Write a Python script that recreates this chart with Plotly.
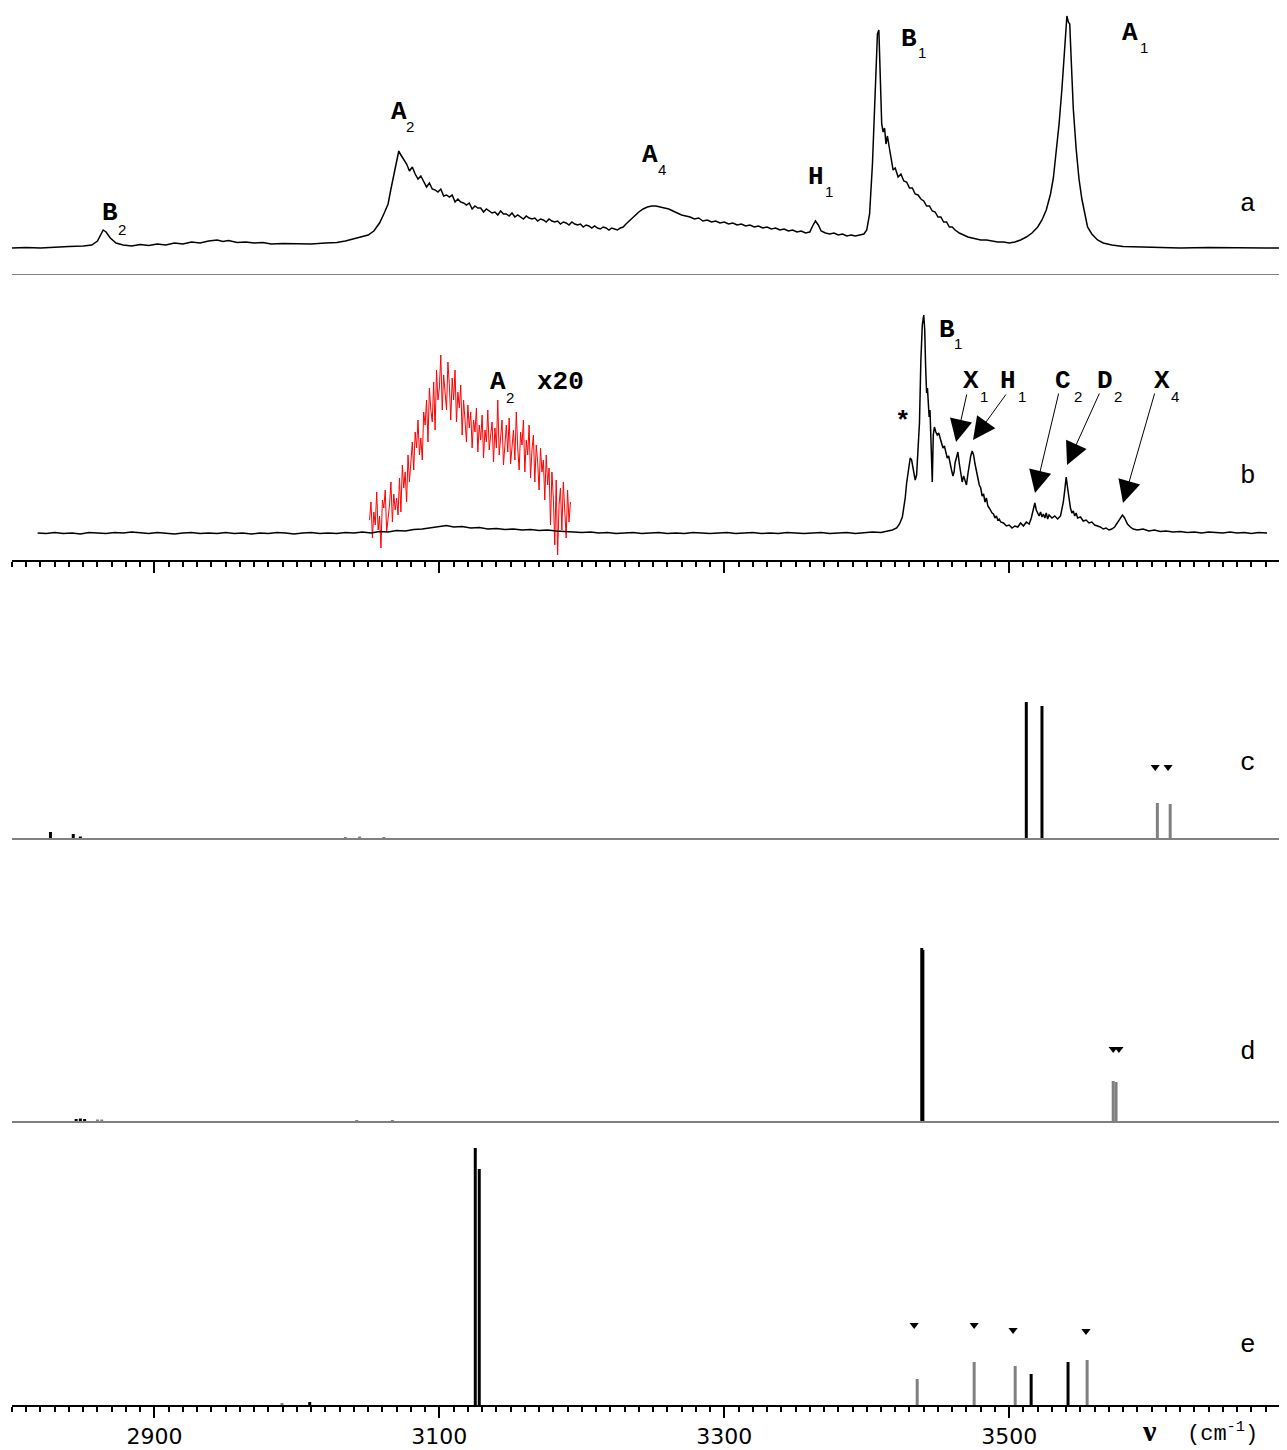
import plotly.graph_objects as go

# page body has an 8px default margin -> figure is drawn at (8, 8) of the page
OFF = 8
W, H = 1287 - OFF, 1450 - OFF
ML, MR, MT, MB = 12 - OFF, 0, 0, 45
XR = [2800, 3695]

# ---------------- panel a : spectrum (x in cm-1, intensity arb.) ----------------
a_x = [2800, 2810, 2820, 2830, 2840, 2850, 2856, 2860, 2864, 2866, 2869, 2873, 2878, 2884, 2890, 2896,
       2902, 2908, 2914, 2920, 2926, 2932, 2938, 2944, 2948, 2952, 2958, 2964, 2970, 2976, 2982, 2990,
       3000, 3010, 3020, 3028, 3034, 3040, 3046, 3050, 3054, 3058, 3061, 3064, 3066, 3068, 3070, 3071.5,
       3073, 3075, 3077, 3079, 3081, 3083, 3085, 3087, 3089, 3091, 3093, 3095, 3097, 3099, 3101, 3103,
       3105, 3107, 3109, 3111, 3113, 3115, 3117, 3119, 3121, 3123, 3125, 3127, 3129, 3131, 3133, 3135,
       3137, 3139, 3141, 3143, 3145, 3147, 3149, 3151, 3153, 3155, 3157, 3159, 3161, 3163, 3165, 3167,
       3169, 3171, 3173, 3175, 3177, 3179, 3181, 3183, 3185, 3187, 3189, 3191, 3193, 3195, 3197, 3199,
       3201, 3203, 3205, 3207, 3209, 3211, 3213, 3215, 3217, 3219, 3221, 3223, 3225, 3227, 3229, 3231,
       3233, 3235, 3237, 3240, 3243, 3246, 3249, 3252, 3255, 3258, 3261, 3264, 3267, 3270, 3273, 3276,
       3279, 3282, 3285, 3288, 3291, 3294, 3297, 3300, 3303, 3306, 3309, 3312, 3315, 3318, 3321, 3324,
       3327, 3330, 3333, 3336, 3339, 3342, 3345, 3348, 3351, 3354, 3357, 3360, 3362, 3364, 3366, 3368,
       3371, 3374, 3377, 3380, 3383, 3386, 3389, 3392, 3395, 3398, 3400, 3402, 3404, 3406, 3407.5, 3408.5,
       3409.5, 3410.5, 3411.5, 3412.5, 3413.5, 3414.5, 3416, 3417.5, 3418.5, 3420, 3422, 3424, 3426, 3428,
       3430, 3432, 3434, 3436, 3438, 3440, 3442, 3444, 3446, 3448, 3450, 3452, 3454, 3456, 3458, 3460,
       3462, 3465, 3468, 3471, 3474, 3477, 3480, 3484, 3488, 3492, 3496, 3500, 3504, 3508, 3512, 3516,
       3520, 3523, 3526, 3529, 3531, 3533, 3535, 3537, 3538.5, 3539.5, 3540.5, 3541.5, 3542.5, 3543.5, 3545, 3547,
       3549, 3551, 3553, 3555, 3558, 3562, 3566, 3572, 3580, 3590, 3600, 3620, 3640, 3660, 3680, 3695]
a_y = [26, 26.5, 26, 27, 27.5, 28, 29, 33, 44, 42, 36, 31, 29, 28, 29.5, 28.5,
       30, 29, 31, 30, 32, 31, 33, 34, 32.5, 33.5, 31.5, 32, 31, 31.5, 30, 30.5,
       30, 30, 31, 31.5, 33, 35, 37, 39, 43, 51, 60, 70, 85, 100, 115, 123,
       119, 114, 110, 103, 107, 100, 95, 98, 92, 87, 91, 85, 84, 82, 85, 78,
       79, 77, 79, 72, 75, 72, 71, 69, 71, 65, 68, 66, 66, 62, 65, 63,
       61, 62, 59, 63, 60, 60, 58, 61, 57, 59, 57, 55, 58, 56, 55, 56,
       53, 55, 54, 52, 55, 53, 52, 53, 50, 52, 51, 49, 52, 50, 49, 50,
       47, 49, 48, 46, 48, 46, 45, 47, 46, 44, 46, 45, 44, 46, 47, 50,
       53, 56, 58, 62, 65, 67, 68, 68, 67, 66, 65, 63, 61, 59, 58, 57,
       55, 56, 53, 54, 52, 53, 51, 52, 50, 51, 49, 50, 48, 49, 47, 48,
       46, 47, 45, 46, 44, 45, 43, 44, 42, 43, 41, 42, 48, 53, 49, 43,
       41, 40, 41, 39, 40, 38, 39, 38, 39, 40, 44, 60, 110, 190, 240, 244,
       200, 150, 142, 146, 130, 138, 125, 112, 104, 106, 97, 100, 93, 92,
       86, 86, 80, 79, 75, 73, 68, 68, 63, 62, 57, 57, 52, 52, 47, 47,
       44, 41, 39, 37, 36, 35, 34, 34, 33, 32, 32, 31, 32, 34, 37, 41,
       47, 54, 64, 80, 96, 120, 150, 185, 215, 240, 258, 252, 250, 215, 165, 125,
       95, 75, 59, 47, 40, 34, 31, 29, 27.5, 27, 26.5, 26, 26.5, 26, 26, 26]

# ---------------- panel b : spectrum (black) and x20 enlargement (red) ----------------
b_x = [2818, 2824, 2830, 2836, 2842, 2848, 2854, 2860, 2866, 2872, 2878, 2884, 2890, 2896, 2902, 2908,
       2914, 2920, 2926, 2932, 2938, 2944, 2950, 2956, 2962, 2968, 2974, 2980, 2986, 2992, 2998, 3004,
       3010, 3016, 3022, 3028, 3034, 3040, 3046, 3052, 3058, 3064, 3070, 3076, 3082, 3088, 3094, 3100,
       3105, 3110, 3116, 3122, 3128, 3134, 3140, 3146, 3152, 3158, 3164, 3170, 3176, 3182, 3188, 3194,
       3200, 3206, 3212, 3218, 3224, 3230, 3236, 3242, 3248, 3254, 3260, 3266, 3272, 3278, 3284, 3290,
       3296, 3302, 3308, 3314, 3320, 3326, 3332, 3338, 3344, 3350, 3356, 3362, 3368, 3374, 3380, 3386,
       3392, 3398, 3404, 3410, 3414, 3418, 3421, 3423, 3425, 3427, 3428, 3429.5, 3430.5, 3431.5, 3433, 3434,
       3435, 3436, 3437, 3438, 3439, 3440, 3440.7, 3441.3, 3442, 3442.6, 3443.2, 3443.8, 3444.4, 3445.2, 3446, 3446.7,
       3447.5, 3448.5, 3449.5, 3450.5, 3451.5, 3452.5, 3453.5, 3454.5, 3455.5, 3456.5, 3457.5, 3458.5, 3459.5, 3460.5, 3461.3, 3462,
       3463, 3464, 3465, 3466, 3467, 3468, 3469, 3470, 3471, 3472, 3473, 3474, 3475, 3476, 3477, 3478,
       3479, 3480, 3481, 3482, 3483, 3484, 3485, 3486, 3487, 3488, 3489, 3490, 3491, 3492, 3493, 3494,
       3496, 3498, 3500, 3502, 3504, 3506, 3508, 3510, 3512, 3514, 3515.5, 3517, 3518, 3519, 3520, 3521,
       3522, 3523, 3524, 3525, 3526, 3527, 3528, 3530, 3532, 3534, 3536, 3537, 3538, 3539, 3540, 3541,
       3542, 3543, 3544, 3545, 3546, 3547, 3548, 3550, 3552, 3554, 3556, 3558, 3560, 3562, 3564, 3566,
       3568, 3570, 3572, 3574, 3576, 3578, 3579.5, 3581, 3583, 3585, 3587, 3590, 3594, 3598, 3602, 3606,
       3610, 3615, 3620, 3625, 3630, 3635, 3640, 3645, 3650, 3655, 3660, 3665, 3670, 3675, 3681]
b_y = [27, 26.5, 27.5, 26.5, 27, 26, 27.5, 27, 26.5, 27.5, 27, 28, 27, 26.5, 27.5, 27,
       26, 27, 27.5, 26.5, 27, 26.5, 27.5, 26.5, 27, 26, 27, 26.5, 27.5, 27, 26, 27,
       27.5, 26.5, 27, 26.5, 27.5, 27, 28, 27, 28.5, 28, 29.5, 29, 30.5, 31, 32, 33.5,
       34.5, 33, 33.5, 32, 32.5, 31, 31.5, 30.5, 31, 30, 30.5, 29.5, 30, 29, 28.5, 28,
       27.5, 28, 27, 27.5, 26.5, 27, 27.5, 26.5, 27, 27.5, 26.5, 27, 26.5, 27.5, 27, 26.5,
       27, 27.5, 26.5, 27, 27.5, 26.5, 27, 26.5, 27.5, 27, 26.5, 27, 27.5, 26.5, 27, 27.5,
       26.5, 27, 28, 27.5, 29, 30, 32, 36, 43, 62, 77, 95, 102, 100, 86, 80,
       85, 110, 137, 200, 235, 245, 230, 195, 167, 172, 160, 143, 150, 120, 78, 125,
       133, 128, 125, 127, 121, 118, 112, 114, 106, 102, 104, 95, 90, 84, 88, 97,
       104, 108, 96, 88, 78, 84, 80, 75, 86, 98, 104, 109, 105, 96, 88, 83,
       75, 72, 64, 66, 58, 62, 54, 52, 49, 47, 46, 42, 44, 40, 41, 38,
       37, 34, 35, 32, 34, 33, 37, 34, 38, 36, 42, 51, 57, 50, 47, 44,
       48, 43, 46, 42, 47, 41, 45, 42, 44, 41, 44, 50, 58, 70, 83, 72,
       60, 52, 47, 49, 44, 47, 42, 43, 39, 40, 37, 38, 35, 34, 33, 31,
       32, 30, 31, 33, 37, 42, 45, 42, 36, 33, 31, 30, 31, 29, 30, 28.5,
       29, 28, 28.5, 27.5, 28, 27, 28, 27.5, 27, 28, 27, 27.5, 26.5, 27.5, 27]

red_x = [3051, 3052, 3053, 3054, 3055, 3056, 3057, 3058, 3059, 3060, 3061, 3062, 3063, 3064, 3065, 3066,
         3067, 3068, 3069, 3070, 3071, 3072, 3073, 3074, 3075, 3076, 3077, 3078, 3079, 3080, 3081, 3082,
         3083, 3084, 3085, 3086, 3087, 3088, 3089, 3090, 3091, 3092, 3093, 3094, 3095, 3096, 3097, 3098,
         3099, 3100, 3101, 3102, 3103, 3104, 3105, 3106, 3107, 3108, 3109, 3110, 3111, 3112, 3113, 3114,
         3115, 3116, 3117, 3118, 3119, 3120, 3121, 3122, 3123, 3124, 3125, 3126, 3127, 3128, 3129, 3130,
         3131, 3132, 3133, 3134, 3135, 3136, 3137, 3138, 3139, 3140, 3141, 3142, 3143, 3144, 3145, 3146,
         3147, 3148, 3149, 3150, 3151, 3152, 3153, 3154, 3155, 3156, 3157, 3158, 3159, 3160, 3161, 3162,
         3163, 3164, 3165, 3166, 3167, 3168, 3169, 3170, 3171, 3172, 3173, 3174, 3175, 3176, 3177, 3178,
         3179, 3180, 3181, 3182, 3183, 3184, 3185, 3186, 3187, 3188, 3189, 3190, 3191, 3192]
red_y = [40, 58, 22, 48, 35, 68, 30, 44, 12, 60, 52, 70, 28, 40, 55, 78,
         38, 66, 50, 62, 45, 82, 48, 95, 72, 88, 58, 105, 78, 98, 118, 90,
         128, 112, 140, 105, 122, 100, 148, 135, 160, 118, 172, 150, 138, 178, 130, 190,
         160, 172, 205, 150, 185, 168, 150, 198, 175, 140, 182, 160, 190, 138, 168, 152,
         175, 125, 160, 140, 118, 155, 132, 148, 112, 140, 128, 152, 108, 135, 120, 145,
         102, 130, 118, 150, 110, 125, 138, 98, 132, 112, 160, 105, 126, 140, 95, 120,
         135, 108, 142, 96, 118, 130, 100, 148, 112, 90, 128, 115, 140, 88, 120, 105,
         135, 82, 110, 125, 78, 115, 98, 70, 112, 88, 100, 60, 105, 75, 92, 35,
         88, 62, 15, 80, 5, 55, 72, 30, 78, 48, 22, 70, 38, 58]

# ---------------- panels c, d, e : calculated stick spectra ----------------
c_black_x = [2827, 2843, 2848, 3512, 3523]
c_black_h = [6, 4, 1.5, 136, 132]
c_grey_x = [3034, 3044, 3061, 3604, 3613]
c_grey_h = [1, 1.5, 1, 35, 34]
c_mark_x = [3602.5, 3611.5]
c_mark_y = [71, 71]

d_black_x = [2845, 2848, 2851, 3438.6, 3439.4]
d_black_h = [2, 2.5, 2, 173, 171]
d_grey_x = [2860, 2863, 3042, 3067, 3573, 3575]
d_grey_h = [1.5, 1.5, 1, 1, 40, 39]
d_mark_x = [3573, 3577]
d_mark_y = [72, 72]

e_black_x = [3009, 3125.2, 3128, 3515.4, 3541.3]
e_black_h = [3, 257, 236, 31, 43]
e_grey_x = [2989.5, 3435.4, 3475.4, 3504.2, 3554.7]
e_grey_h = [2, 26, 43, 39, 45]
e_mark_x = [3433.3, 3475.4, 3502.7, 3553.9]
e_mark_y = [80, 80, 75, 74]

tick_major = [2800, 2900, 3000, 3100, 3200, 3300, 3400, 3500, 3600]
tick_text = ["", "2900", "", "3100", "", "3300", "", "3500", ""]

GREY = "#808080"
LAB = "Liberation Mono"
PH = H - MT - MB
PW = W - ML - MR
PLOT_BOTTOM = H - MB + OFF  # page pixel of the bottom axis (1405)


def P(px, py):
    """page-pixel position -> paper coordinates"""
    return (px - OFF - ML) / PW, (PLOT_BOTTOM - py) / PH


def ydom(pb, pt):
    return [(PLOT_BOTTOM - pb) / PH, min(1.0, (PLOT_BOTTOM - pt) / PH)]


def sticks(xs, hs):
    xx, yy = [], []
    for x, h in zip(xs, hs):
        xx += [x, x, None]
        yy += [0, h, None]
    return xx, yy


fig = go.Figure()

fig.add_trace(go.Scatter(x=a_x, y=a_y, mode="lines", line=dict(color="black", width=1.5),
                         xaxis="x5", yaxis="y5", hoverinfo="skip"))
fig.add_trace(go.Scatter(x=red_x, y=red_y, mode="lines", line=dict(color="#ff0000", width=1),
                         xaxis="x4", yaxis="y4", hoverinfo="skip"))
fig.add_trace(go.Scatter(x=b_x, y=b_y, mode="lines", line=dict(color="black", width=1.5),
                         xaxis="x4", yaxis="y4", hoverinfo="skip"))

for (bx, bh, gx, gh, mx, my, ax, ay) in [
    (c_black_x, c_black_h, c_grey_x, c_grey_h, c_mark_x, c_mark_y, "x3", "y3"),
    (d_black_x, d_black_h, d_grey_x, d_grey_h, d_mark_x, d_mark_y, "x2", "y2"),
    (e_black_x, e_black_h, e_grey_x, e_grey_h, e_mark_x, e_mark_y, "x", "y"),
]:
    xx, yy = sticks(gx, gh)
    fig.add_trace(go.Scatter(x=xx, y=yy, mode="lines", line=dict(color=GREY, width=3),
                             xaxis=ax, yaxis=ay, hoverinfo="skip"))
    xx, yy = sticks(bx, bh)
    fig.add_trace(go.Scatter(x=xx, y=yy, mode="lines", line=dict(color="black", width=3),
                             xaxis=ax, yaxis=ay, hoverinfo="skip"))
    fig.add_trace(go.Scatter(x=mx, y=my, mode="markers",
                             marker=dict(symbol="triangle-down", size=8, color="black"),
                             xaxis=ax, yaxis=ay, hoverinfo="skip"))

minor_ticks = list(range(2800, 3700, 10))
tick_axis = dict(range=XR, showline=True, linecolor="black", linewidth=2, ticks="outside",
                 tickmode="array", tickvals=tick_major, ticktext=tick_text, ticklen=11, tickwidth=2,
                 tickcolor="black", showgrid=False, zeroline=False,
                 tickfont=dict(family="DejaVu Sans", size=22, color="black"),
                 minor=dict(tickmode="array", tickvals=minor_ticks, ticks="outside", ticklen=5,
                            tickwidth=1.5, tickcolor="black", showgrid=False))
plain_axis = dict(range=XR, showline=True, linecolor=GREY, linewidth=1.5, ticks="",
                  showticklabels=False, showgrid=False, zeroline=False)
hidden_y = dict(visible=False, showgrid=False, zeroline=False)

fig.update_layout(
    width=W, height=H, margin=dict(l=ML, r=MR, t=MT, b=MB),
    paper_bgcolor="white", plot_bgcolor="white", showlegend=False,
    xaxis=dict(tick_axis, anchor="y"),
    xaxis2=dict(plain_axis, anchor="y2", matches="x"),
    xaxis3=dict(plain_axis, anchor="y3", matches="x"),
    xaxis4=dict(tick_axis, anchor="y4", matches="x", showticklabels=False),
    xaxis5=dict(plain_axis, anchor="y5", matches="x", linewidth=1),
    yaxis=dict(hidden_y, domain=ydom(1405, 1125), range=[0, 280]),
    yaxis2=dict(hidden_y, domain=ydom(1121, 842), range=[0, 279]),
    yaxis3=dict(hidden_y, domain=ydom(838, 600), range=[0, 238]),
    yaxis4=dict(hidden_y, domain=ydom(560, 285), range=[0, 275]),
    yaxis5=dict(hidden_y, domain=ydom(274, OFF), range=[0, 274 - OFF]),
)

ann = []


def txt(text, px, py, size=26, family=LAB, bold=True, yanchor="middle"):
    x, y = P(px, py)
    t = "<b>%s</b>" % text if bold else text
    ann.append(dict(text=t, x=x, y=y, xref="paper", yref="paper", showarrow=False,
                    xanchor="center", yanchor=yanchor, borderpad=0,
                    font=dict(family=family, size=size, color="black")))


def lab(main, sub, px, py, spx, spy):
    txt(main, px, py)
    txt(sub, spx, spy, size=15, family="Liberation Sans", bold=False)


# panel a labels
lab("B", "2", 110, 213, 122, 229)
lab("A", "2", 399, 112, 410, 126)
lab("A", "4", 650, 155, 662, 169)
lab("H", "1", 816, 177, 829, 192)
lab("B", "1", 909, 39, 922, 53)
lab("A", "1", 1130, 33, 1144, 47)
# panel b labels
lab("B", "1", 947, 330, 958, 343)
lab("A", "2", 498, 382, 510, 397)
txt("x20", 560, 382)
lab("X", "1", 971, 381, 984, 396)
lab("H", "1", 1008, 381, 1022, 396)
lab("C", "2", 1063, 381, 1078, 396)
lab("D", "2", 1105, 381, 1118, 396)
lab("X", "4", 1162, 381, 1175, 396)
txt("*", 903, 422)
# panel letters
for letter, py in [("a", 204), ("b", 476), ("c", 763), ("d", 1052), ("e", 1345)]:
    txt(letter, 1248, py, size=26, bold=False)

# arrows in panel b (tip in data coords, tail offset in pixels)
arrow_tips = [(3462.7, 118, 11, -49), (3474.6, 120, 34, -47), (3518.1, 67, 24, -101),
              (3540.6, 95, 33, -73), (3579.9, 57, 32, -111)]
for (x, y, dx, dy) in arrow_tips:
    ann.append(dict(x=x, y=y, xref="x4", yref="y4", ax=dx, ay=dy, axref="pixel", ayref="pixel",
                    text="", showarrow=True, arrowhead=2, arrowsize=4.5, arrowwidth=1,
                    arrowcolor="black", standoff=0))

# axis title: bold nu + (cm-1)
txt("ν", 1149, 1448, size=30, family="Liberation Serif", bold=True, yanchor="bottom")
txt("(cm<sup>-1</sup>)", 1222, 1448, size=22, bold=False, yanchor="bottom")

fig.update_layout(annotations=ann)
fig.write_html("out.html")
